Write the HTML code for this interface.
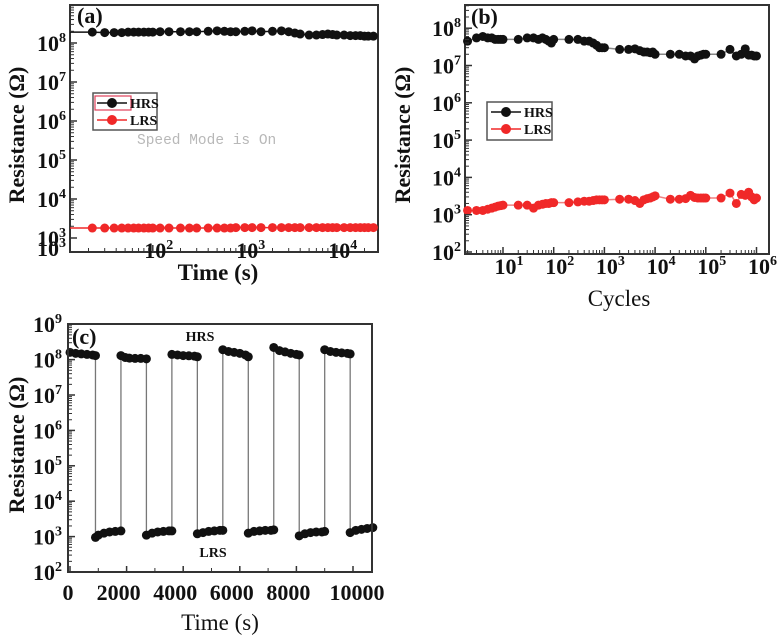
<!DOCTYPE html>
<html><head><meta charset="utf-8"><style>
html,body{margin:0;padding:0;background:#fff;}
svg{display:block;font-family:"Liberation Serif",serif;}
</style></head><body>
<svg id="fig" width="779" height="635" viewBox="0 0 779 635" xmlns="http://www.w3.org/2000/svg"></svg>
<script>
// ---- Panel (a) data ----
const aTime=[22,30,38,46,54,62,70,80,90,100,120,150,200,250,300,400,500,600,700,800,1000,1200,1500,2000,2500,3000,3500,4000,5000,6000,7000,8000,9000,10000,12000,14000,16000,18000,20000,22000,25000];
const aHRS=[1.9e8,1.85e8,1.85e8,1.85e8,1.9e8,1.9e8,1.9e8,1.9e8,1.9e8,1.9e8,1.95e8,1.95e8,1.95e8,1.95e8,1.95e8,2.0e8,2.05e8,2.0e8,1.95e8,1.95e8,2.0e8,2.05e8,1.95e8,2.0e8,2.05e8,1.95e8,1.8e8,1.7e8,1.6e8,1.6e8,1.65e8,1.7e8,1.65e8,1.6e8,1.6e8,1.55e8,1.55e8,1.55e8,1.5e8,1.5e8,1.5e8];
const aLRS=[1.8e3,1.8e3,1.8e3,1.8e3,1.8e3,1.8e3,1.8e3,1.8e3,1.8e3,1.8e3,1.8e3,1.8e3,1.8e3,1.8e3,1.8e3,1.8e3,1.8e3,1.8e3,1.8e3,1.85e3,1.85e3,1.85e3,1.85e3,1.85e3,1.85e3,1.85e3,1.85e3,1.85e3,1.85e3,1.85e3,1.85e3,1.85e3,1.85e3,1.85e3,1.85e3,1.85e3,1.85e3,1.85e3,1.85e3,1.85e3,1.85e3];
const aXTicks=[2,3,4];
const aYTicks=[3,4,5,6,7,8];
// ---- Panel (b) data ----
const bCycles=[2,3,4,5,6,7,8,9,10,20,30,40,50,60,70,80,90,100,200,300,400,500,600,700,800,900,1000,2000,3000,4000,5000,6000,7000,8000,9000,10000,20000,30000,40000,50000,60000,70000,80000,90000,100000,200000,300000,400000,500000,600000,700000,800000,900000,1000000];
const bHRS=[4.5e7,5.5e7,6e7,5.5e7,5.5e7,5e7,5e7,5e7,5e7,5e7,5.5e7,5.5e7,5e7,5.5e7,5e7,4.5e7,4e7,5e7,5e7,5e7,4.5e7,4.5e7,4e7,3.5e7,3e7,3e7,3e7,2.7e7,2.7e7,2.8e7,2.5e7,2.3e7,2.3e7,2.2e7,2.3e7,2e7,2e7,2e7,1.8e7,1.8e7,1.5e7,1.8e7,1.9e7,2e7,2e7,2e7,2.7e7,1.8e7,2e7,2.8e7,1.9e7,1.9e7,1.8e7,1.8e7];
const bLRS=[1.3e3,1.3e3,1.3e3,1.4e3,1.5e3,1.6e3,1.7e3,1.75e3,1.8e3,1.8e3,1.8e3,1.5e3,1.8e3,1.9e3,2e3,2e3,2.1e3,2.1e3,2.1e3,2.2e3,2.3e3,2.3e3,2.4e3,2.5e3,2.5e3,2.5e3,2.5e3,2.6e3,2.6e3,2.4e3,2e3,2.5e3,2.7e3,2.8e3,3e3,3.2e3,2.6e3,2.6e3,2.7e3,3.3e3,2.9e3,2.8e3,2.8e3,2.8e3,2.8e3,2.8e3,3.8e3,2e3,3.5e3,3.3e3,4e3,3e3,2.5e3,2.8e3];
const bXTicks=[1,2,3,4,5,6];
const bYTicks=[2,3,4,5,6,7,8];
// ---- Panel (c) data ----
const cHRSTime=[[0,200,400,600,800,900],[1800,1950,2100,2300,2500,2700],[3600,3800,4000,4200,4400,4500],[5400,5600,5800,6000,6200,6300],[7200,7400,7600,7800,8000,8100],[9000,9200,9400,9600,9800,9900]];
const cHRSVal=[[1.6e8,1.5e8,1.45e8,1.4e8,1.35e8,1.3e8],[1.3e8,1.15e8,1.1e8,1.08e8,1.08e8,1.05e8],[1.4e8,1.35e8,1.3e8,1.28e8,1.25e8,1.2e8],[1.9e8,1.7e8,1.6e8,1.5e8,1.35e8,1.2e8],[2.2e8,1.8e8,1.65e8,1.5e8,1.4e8,1.35e8],[1.9e8,1.7e8,1.6e8,1.55e8,1.5e8,1.45e8]];
const cLRSTime=[[900,1000,1200,1400,1600,1800],[2700,2900,3100,3300,3500,3600],[4500,4700,4900,5100,5300,5400],[6300,6500,6700,6900,7100,7200],[8100,8300,8500,8700,8900,9000],[9900,10100,10300,10500,10700]];
const cLRSVal=[[0.95e3,1.1e3,1.25e3,1.35e3,1.4e3,1.45e3],[1.1e3,1.25e3,1.35e3,1.4e3,1.45e3,1.45e3],[1.2e3,1.3e3,1.4e3,1.45e3,1.5e3,1.5e3],[1.25e3,1.4e3,1.45e3,1.5e3,1.5e3,1.55e3],[1.05e3,1.2e3,1.3e3,1.35e3,1.35e3,1.4e3],[1.3e3,1.5e3,1.6e3,1.7e3,1.8e3]];
const cXTicks=[0,2000,4000,6000,8000,10000];
const cYTicks=[2,3,4,5,6,7,8,9];

const NS="http://www.w3.org/2000/svg";
const svg=document.getElementById('fig');
function mk(tag,attrs,parent){const e=document.createElementNS(NS,tag);for(const k in attrs)e.setAttribute(k,attrs[k]);(parent||svg).appendChild(e);return e;}
function powLabel(g,x,y,exp,anchor){
  const t=mk('text',{x:x,y:y,'text-anchor':anchor,'font-size':22,'font-weight':'bold',fill:'#111'},g);
  
  
  const a=document.createElementNS(NS,'tspan');a.textContent='10';t.appendChild(a);
  const b=document.createElementNS(NS,'tspan');b.setAttribute('font-size',14);b.setAttribute('dy',-9);b.textContent=exp;t.appendChild(b);
  return t;
}
function panel(name){
  const g=mk('g',{});
  
  
  return g;
}
function frame(g,box){
  const r=mk('rect',{x:box.l,y:box.t,width:box.r-box.l,height:box.b-box.t,fill:'none',stroke:'#333','stroke-width':2},g);
  
  
}
function logYTicks(g,box,yf,ticks,labelX){
  ticks.forEach(d=>{
    const y=yf(Math.pow(10,d));
    if(y>=box.t-1&&y<=box.b+1){
      const l=mk('line',{x1:box.l,x2:box.l+7,y1:y,y2:y,stroke:'#333','stroke-width':1.5},g);
      
      
    }
    powLabel(g,labelX,y+8,String(d),'end');
    for(let m=2;m<10;m++){const ym=yf(m*Math.pow(10,d));if(ym>box.t&&ym<box.b){
      const l=mk('line',{x1:box.l,x2:box.l+4,y1:ym,y2:ym,stroke:'#333','stroke-width':1},g);
      
      
    }}
  });
}
function logXTicks(g,box,xf,ticks,labelY){
  ticks.forEach(d=>{
    const x=xf(Math.pow(10,d));
    const l=mk('line',{x1:x,x2:x,y1:box.b,y2:box.b-7,stroke:'#333','stroke-width':1.5},g);
    
    
    powLabel(g,x+6,labelY,String(d),'middle');
  });
  for(let d=Math.min(...ticks)-1;d<=Math.max(...ticks);d++)for(let m=2;m<10;m++){const x=xf(m*Math.pow(10,d));if(x>box.l&&x<box.r){
    const l=mk('line',{x1:x,x2:x,y1:box.b,y2:box.b-4,stroke:'#333','stroke-width':1},g);
    
    
  }}
}
function series(g,xs,ys,xf,yf,color,lineColor,name,r){
  const pts=xs.map((x,i)=>xf(x)+','+yf(ys[i])).join(' ');
  const pl=mk('polyline',{points:pts,fill:'none',stroke:lineColor,'stroke-width':1.5},g);
  
  
  xs.forEach((x,i)=>{
    const c=mk('circle',{cx:xf(x),cy:yf(ys[i]),r:r,fill:color},g);
    
    
  });
}
function text(g,x,y,s,attrs,name){
  const t=mk('text',Object.assign({x:x,y:y,fill:'#111'},attrs),g);
  t.textContent=s;
  
  
  return t;
}
function yTitle(g,x,y,name){
  const t=mk('text',{x:0,y:0,transform:`translate(${x},${y}) rotate(-90)`,'text-anchor':'middle','font-size':22,'font-weight':'bold',fill:'#111'},g);
  t.textContent='Resistance (Ω)';
  
  
}
function legend(g,x,y,w,h,border,name){
  const lg=mk('g',{},g);
  
  
  mk('rect',{x:x,y:y,width:w,height:h,fill:'#fff',stroke:'#555','stroke-width':1.5},lg);
  if(border){const b=mk('rect',{x:x+2,y:y+3,width:36,height:14,fill:'none',stroke:'#e0405a','stroke-width':1.2},lg);}
  [['HRS','#111',y+10],['LRS','#f02828',y+27]].forEach(([s,c,yy])=>{
    const e=mk('g',{},lg);
    
    
    mk('line',{x1:x+4,x2:x+34,y1:yy,y2:yy,stroke:c,'stroke-width':1.5},e);
    mk('circle',{cx:x+19,cy:yy,r:5,fill:c},e);
    const t=mk('text',{x:x+37,y:yy+5,'font-size':14,'font-weight':'bold',fill:'#111'},e);t.textContent=s;
  });
}

// ===== Panel (a) =====
{
  const box={l:70,r:378,t:5,b:252};
  const xf=v=>box.l+(Math.log10(v)-1.1)*92;
  const yf=v=>43+(8-Math.log10(v))*39;
  const g=panel('panel-a');
  frame(g,box);
  series(g,aTime,aHRS,xf,yf,'#111','#111','hrs-a',4.5);
  series(g,aTime,aLRS,xf,yf,'#f02828','#f02828','lrs-a',4.5);
  const hl=mk('line',{x1:box.l,x2:xf(22),y1:yf(1.9e8),y2:yf(1.9e8),stroke:'#111','stroke-width':1.5},g);
  const ll=mk('line',{x1:box.l,x2:xf(22),y1:yf(1.8e3),y2:yf(1.8e3),stroke:'#f02828','stroke-width':1.5},g);
  logYTicks(g,box,yf,aYTicks,66);
  powLabel(g,66,256,'3','end');
  logXTicks(g,box,xf,aXTicks,258);
  text(g,218,280,'Time (s)',{'text-anchor':'middle','font-size':23,'font-weight':'bold'},'x-axis-title-a');
  yTitle(g,24,135,'y-axis-title-a');
  text(g,77,23,'(a)',{'font-size':22,'font-weight':'bold'},'panel-label-a');
  legend(g,93,93,64,37,true,'legend-a');
  text(g,137,144,'Speed Mode is On',{'font-family':'Liberation Mono, monospace','font-size':14.5,fill:'#b8b8b8'},'watermark-text');
}
// ===== Panel (b) =====
{
  const box={l:465,r:769,t:5,b:254};
  const xf=v=>503+(Math.log10(v)-1)*50.7;
  const yf=v=>252-(Math.log10(v)-2)*37.3;
  const g=panel('panel-b');
  frame(g,box);
  series(g,bCycles,bHRS,xf,yf,'#111','#888','hrs-b',4.5);
  series(g,bCycles,bLRS,xf,yf,'#f02828','#f08080','lrs-b',4.5);
  logYTicks(g,box,yf,bYTicks,461);
  logXTicks(g,box,xf,bXTicks,274);
  text(g,619,306,'Cycles',{'text-anchor':'middle','font-size':23},'x-axis-title-b');
  yTitle(g,410,135,'y-axis-title-b');
  text(g,471,24,'(b)',{'font-size':22,'font-weight':'bold'},'panel-label-b');
  legend(g,487,102,65,38,false,'legend-b');
}
// ===== Panel (c) =====
{
  const box={l:68,r:372,t:324,b:572};
  const xf=v=>70+v*0.0283;
  const yf=v=>572-(Math.log10(v)-2)*35.4;
  const g=panel('panel-c');
  for(let i=0;i<cHRSTime.length;i++){
    const h=cHRSTime[i],hv=cHRSVal[i],l=cLRSTime[i],lv=cLRSVal[i];
    const v1=mk('line',{x1:xf(h[h.length-1]),x2:xf(l[0]),y1:yf(hv[hv.length-1]),y2:yf(lv[0]),stroke:'#777','stroke-width':1.3},g);
    
    
    if(i+1<cHRSTime.length){
      const v2=mk('line',{x1:xf(l[l.length-1]),x2:xf(cHRSTime[i+1][0]),y1:yf(lv[lv.length-1]),y2:yf(cHRSVal[i+1][0]),stroke:'#777','stroke-width':1.3},g);
      
      
    }
  }
  cHRSTime.forEach((ts,i)=>series(g,ts,cHRSVal[i],xf,yf,'#111','#111','hrs-c',4.5));
  cLRSTime.forEach((ts,i)=>series(g,ts,cLRSVal[i],xf,yf,'#111','#111','lrs-c',4.5));
  frame(g,box);
  logYTicks(g,box,yf,cYTicks,62);
  cXTicks.forEach(v=>{
    const x=xf(v);
    const l=mk('line',{x1:x,x2:x,y1:box.b,y2:box.b-6,stroke:'#333','stroke-width':1.5},g);
    
    
    text(g,v===10000?357:(v===0?68:x-8),600,String(v),{'text-anchor':'middle','font-size':22,'font-weight':'bold'},'tick-label');
  });
  for(let v=1000;v<=10000;v+=2000){const x=xf(v);const l=mk('line',{x1:x,x2:x,y1:box.b,y2:box.b-4,stroke:'#333','stroke-width':1},g);}
  text(g,220,630,'Time (s)',{'text-anchor':'middle','font-size':23},'x-axis-title-c');
  yTitle(g,24,445,'y-axis-title-c');
  text(g,72,344,'(c)',{'font-size':22,'font-weight':'bold'},'panel-label-c');
  text(g,200,341,'HRS',{'text-anchor':'middle','font-size':14,'font-weight':'bold'},'hrs-annotation');
  text(g,213,557,'LRS',{'text-anchor':'middle','font-size':14,'font-weight':'bold'},'lrs-annotation');
}
</script>
</body></html>
